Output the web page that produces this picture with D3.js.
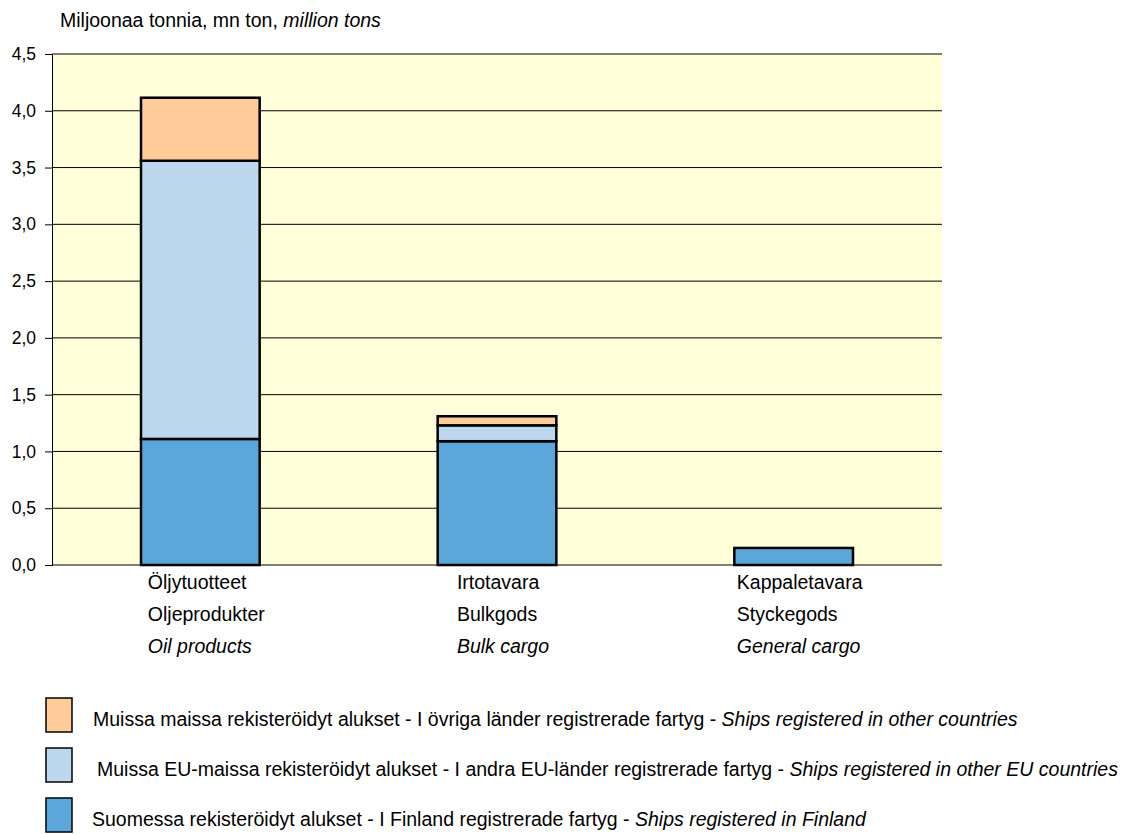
<!DOCTYPE html>
<html><head><meta charset="utf-8">
<script src="https://cdn.jsdelivr.net/npm/d3@7"></script>
<style>
body{margin:0;background:#fff;}
text{font-family:"Liberation Sans Narrow","Arial Narrow","Liberation Sans",sans-serif;fill:#000;}
</style></head><body>
<svg id="c" width="1128" height="834"></svg>
<script>
const categories = [
  ["Öljytuotteet","Oljeprodukter","Oil products"],
  ["Irtotavara","Bulkgods","Bulk cargo"],
  ["Kappaletavara","Styckegods","General cargo"]
];
const finland = [1.11, 1.09, 0.15];
const otherEU = [2.45, 0.14, 0];
const otherCountries = [0.555, 0.08, 0];
const seriesNames = [
  ["Suomessa rekisteröidyt alukset - I Finland registrerade fartyg - ","Ships registered in Finland"],
  ["Muissa EU-maissa rekisteröidyt alukset - I andra EU-länder registrerade fartyg - ","Ships registered in other EU countries"],
  ["Muissa maissa rekisteröidyt alukset - I övriga länder registrerade fartyg - ","Ships registered in other countries"]
];
const colors = ["#5BA7DA","#BDD7EE","#FFCC99"];
const yTicks = [0,0.5,1,1.5,2,2.5,3,3.5,4,4.5];

const svg = d3.select("#c");
const m = {l:52, r:942, t:54, b:565};
const x = d3.scaleBand().domain(d3.range(categories.length)).range([m.l, m.r]).paddingInner(0.6).paddingOuter(0.3);
const y = d3.scaleLinear().domain([0,4.5]).range([m.b, m.t]);

svg.append("rect").attr("x",m.l).attr("y",m.t).attr("width",m.r-m.l).attr("height",m.b-m.t).attr("fill","#FFFFD9");

const fmt = d => d3.format(".1f")(d).replace(".",",");
const ya = svg.append("g").attr("transform",`translate(${m.l},0)`)
  .call(d3.axisLeft(y).tickValues(yTicks).tickFormat(fmt).tickSize(7).tickPadding(9));
ya.select(".domain").attr("stroke","#000");
ya.selectAll("text").style("font-size","17.5px").attr("fill","#000");
svg.append("g").selectAll("line").data(yTicks.slice(1)).join("line")
  .attr("x1",m.l).attr("x2",m.r).attr("y1",d=>y(d)).attr("y2",d=>y(d)).attr("stroke","#000").attr("stroke-width",1);
svg.append("line").attr("x1",m.l).attr("x2",m.r).attr("y1",m.b).attr("y2",m.b).attr("stroke","#000");

const data = categories.map((c,i)=>({i, s0:finland[i], s1:otherEU[i], s2:otherCountries[i]}));
const stack = d3.stack().keys(["s0","s1","s2"])(data);
stack.forEach((layer,k)=>{
  svg.append("g").selectAll("rect").data(layer.filter(d=>d[1]-d[0]>0)).join("rect")
    .attr("x",d=>x(d.data.i)).attr("width",x.bandwidth())
    .attr("y",d=>y(d[1])).attr("height",d=>y(d[0])-y(d[1]))
    .attr("fill",colors[k]).attr("stroke","#000").attr("stroke-width",2.5);
});

// category labels
categories.forEach((lines,i)=>{
  const g = svg.append("g");
  const texts = lines.map((t,j)=>g.append("text").attr("y",589+j*32).style("font-size","19.5px")
    .style("font-style", j===2?"italic":"normal").text(t));
  const w = d3.max(texts, t=>t.node().getComputedTextLength());
  const cx = x(i)+x.bandwidth()/2;
  texts.forEach(t=>t.attr("x",cx-w/2+6));
});

// title
const title = svg.append("text").attr("x",60).attr("y",27).style("font-size","19.5px");
title.append("tspan").text("Miljoonaa tonnia, mn ton, ");
title.append("tspan").style("font-style","italic").text("million tons");

// legend (reverse order: top = other countries)
const legOrder = [2,1,0];
legOrder.forEach((k,j)=>{
  const yy = 698 + j*50;
  svg.append("rect").attr("x",46).attr("y",yy).attr("width",26).attr("height",34)
    .attr("fill",colors[k]).attr("stroke","#000").attr("stroke-width",1.5);
  const t = svg.append("text").attr("x",[93,97,92][j]).attr("y",yy+28).style("font-size","19.5px");
  t.append("tspan").text(seriesNames[k][0]);
  t.append("tspan").style("font-style","italic").text(seriesNames[k][1]);
});
</script>
</body></html>
